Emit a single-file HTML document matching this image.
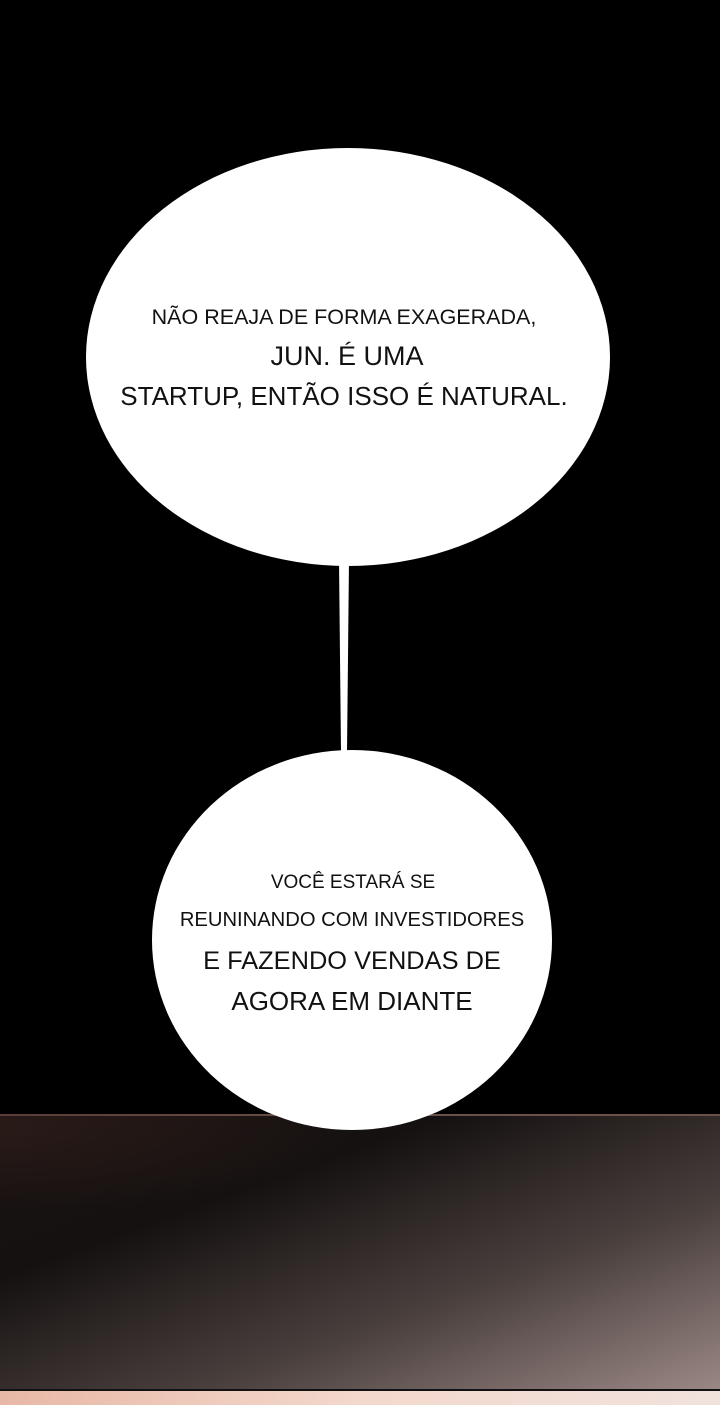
<!DOCTYPE html>
<html><head><style>
body{margin:0;width:720px;height:1405px;background:#000;position:relative;overflow:hidden;font-family:"Liberation Sans",sans-serif}
.t{position:absolute;left:0;width:720px;text-align:center;color:#111;white-space:nowrap}
</style></head><body>
<div style="position:absolute;left:0;top:1114px;width:720px;height:277px;border-top:2px solid #6e4f47;background:linear-gradient(160deg,#1a1312 0%,#151111 30%,#4a403e 65%,#9c8986 100%)"></div>
<div style="position:absolute;left:0;top:1114px;width:720px;height:277px;background:radial-gradient(ellipse 50% 30% at 0% 5%,rgba(60,35,30,.45),transparent)"></div>
<div style="position:absolute;left:0;top:1389px;width:720px;height:2px;background:#111"></div>
<div style="position:absolute;left:0;top:1391px;width:720px;height:14px;background:linear-gradient(90deg,#e8b8a6,#f3d8cc,#f1e2dc)"></div>
<svg width="720" height="1405" style="position:absolute;left:0;top:0">
<ellipse cx="348" cy="357" rx="262" ry="209" fill="#fff"/>
<path d="M339 560 L349 560 L347 752 L341 752 Z" fill="#fff"/>
<ellipse cx="352" cy="940" rx="200" ry="190" fill="#fff"/>
</svg>
<div class="t" style="top:305px;font-size:21.5px;left:-16px">NÃO REAJA DE FORMA EXAGERADA,</div>
<div class="t" style="top:341px;font-size:27px;left:-13px">JUN. É UMA</div>
<div class="t" style="top:381px;font-size:26px;left:-16px">STARTUP, ENTÃO ISSO É NATURAL.</div>
<div class="t" style="top:872px;font-size:19px;left:-7px">VOCÊ ESTARÁ SE</div>
<div class="t" style="top:909px;font-size:20.2px;left:-8px">REUNINANDO COM INVESTIDORES</div>
<div class="t" style="top:947px;font-size:25.4px;left:-8px">E FAZENDO VENDAS DE</div>
<div class="t" style="top:986px;font-size:26px;left:-8px">AGORA EM DIANTE</div>
</body></html>
